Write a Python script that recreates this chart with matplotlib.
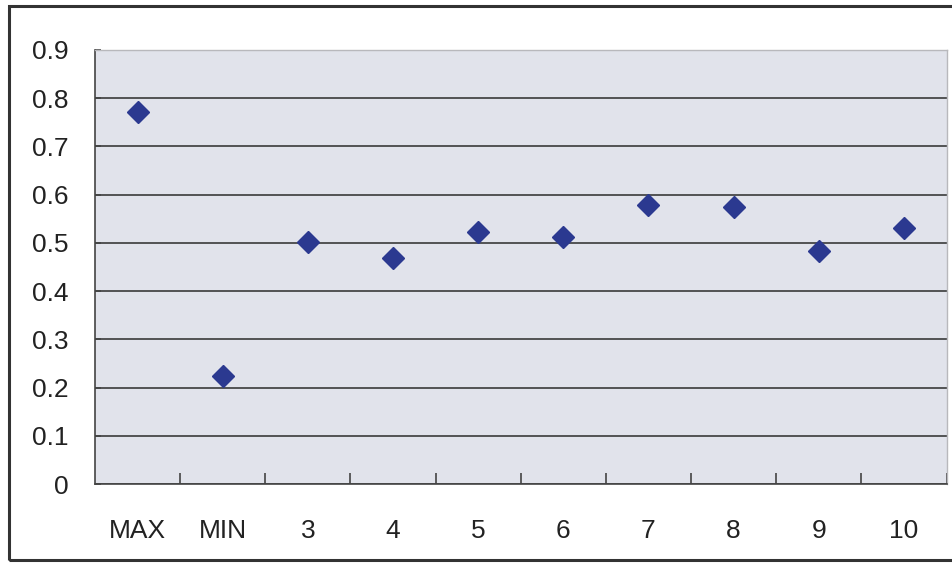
import matplotlib
matplotlib.use("Agg")
import matplotlib.pyplot as plt
import numpy as np
from matplotlib.patches import Rectangle
from matplotlib.ticker import FixedLocator

plt.rcParams["font.family"] = ["Liberation Sans", "DejaVu Sans"]

categories = ["MAX", "MIN", "3", "4", "5", "6", "7", "8", "9", "10"]
values = [0.771, 0.224, 0.501, 0.468, 0.522, 0.513, 0.578, 0.574, 0.484, 0.530]
y_ticks = [0, 0.1, 0.2, 0.3, 0.4, 0.5, 0.6, 0.7, 0.8, 0.9]
y_labels = ["0", "0.1", "0.2", "0.3", "0.4", "0.5", "0.6", "0.7", "0.8", "0.9"]

x = np.arange(len(categories))

fig = plt.figure(figsize=(9.53, 5.63), dpi=100)
ax = fig.add_axes([0.0997, 0.1403, 0.8935, 0.771])
ax.set_facecolor("#e1e3eb")

ax.plot(x, values, linestyle="none", marker="D", markersize=11,
        color="#2b3990", zorder=3)

ax.set_xlim(-0.5, len(categories) - 0.5)
ax.set_ylim(0, 0.9)
ax.set_yticks(y_ticks)
ax.set_yticklabels(y_labels)
ax.set_xticks(x)
ax.set_xticklabels(categories)
ax.xaxis.set_minor_locator(FixedLocator(np.arange(len(categories)) + 0.5))

ax.tick_params(axis="x", which="major", length=0, pad=25, labelsize=19,
               labelcolor="#222222")
ax.tick_params(axis="x", which="minor", direction="in", length=8,
               width=1.2, color="#444444")
ax.tick_params(axis="y", direction="in", length=4, width=1.2,
               color="#444444", pad=19, labelsize=19, labelcolor="#222222")

ax.yaxis.grid(True, color="#3a3a3a", linewidth=1.2)
ax.get_ygridlines()[-1].set_visible(False)
ax.set_axisbelow(True)

for side in ["left", "bottom"]:
    ax.spines[side].set_color("#444444")
    ax.spines[side].set_linewidth(1.2)
for side in ["top", "right"]:
    ax.spines[side].set_color("#b8b8bc")
    ax.spines[side].set_linewidth(1.0)

frame = Rectangle((9 / 953, 3 / 563), 1.1, 554 / 563, transform=fig.transFigure,
                  fill=False, edgecolor="#333333", linewidth=2.2, clip_on=False)
fig.patches.append(frame)

fig.savefig("out.png", dpi=100)
